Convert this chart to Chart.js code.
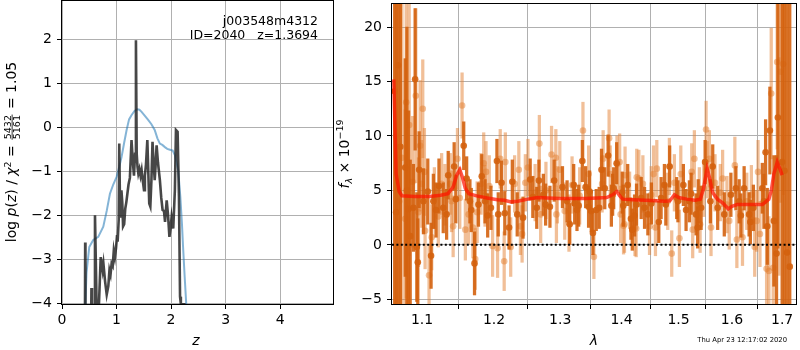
<!DOCTYPE html>
<html>
<head>
<meta charset="utf-8">
<script src="https://cdn.jsdelivr.net/npm/chart.js@4.4.1/dist/chart.umd.min.js"></script>
<style>
    body { margin: 0; background: #fff; }
    #wrap { position: relative; width: 800px; height: 350px; }
    #pzChart { position: absolute; left: 0; top: 0; }
    #specChart { position: absolute; left: 330px; top: 0; }
</style>
</head>
<body>
<div id="wrap">
    <canvas id="pzChart" width="340" height="350"></canvas>
    <canvas id="specChart" width="470" height="350"></canvas>
</div>
<script>
// ---- left panel: log p(z) ----
const fineZ = [0.42, 0.425, 0.43, 0.53, 0.54, 0.55, 0.595, 0.605, 0.648, 0.71, 0.745, 0.76, 0.79, 0.82, 0.85, 0.87, 0.89, 0.91,
    0.93, 0.95, 0.97, 0.99, 1.01, 1.02, 1.04, 1.05, 1.065, 1.075, 1.09, 1.105, 1.12, 1.14, 1.16, 1.18, 1.2, 1.22, 1.245,
    1.275, 1.3, 1.32, 1.34, 1.356, 1.37, 1.385, 1.4, 1.42, 1.44, 1.46, 1.48, 1.504, 1.52, 1.54, 1.565, 1.58, 1.6, 1.62,
    1.64, 1.66, 1.68, 1.7, 1.715, 1.735, 1.76, 1.795, 1.82, 1.845, 1.87, 1.89, 1.92, 1.945, 1.97, 1.99, 2.01, 2.04, 2.07,
    2.09, 2.12, 2.145, 2.165, 2.18, 2.265];
const fineLogP = [-5, -2.62, -5, -5, -3.65, -5, -5, -2.0, -5, -2.95, -3.25, -3.1, -3.5, -3.8, -3.6, -3.25, -3.35, -3.1,
    -3.15, -2.8, -2.95, -2.75, -2.45, -2.6, -2.1, -0.37, -1.9, -2.05, -1.43, -1.7, -2.25, -2.2, -1.85, -1.7, -1.5, -1.3, -1.15,
    -0.29, -0.8, -1.1, -0.6, 1.98, -0.6, -0.9, -1.05, -0.95, -1.1, -0.97, -1.2, -1.43, -1.1, -0.85, -0.29, -0.9, -1.73, -1.8,
    -1.2, -0.33, -0.8, -1.2, -0.9, -0.41, -0.8, -1.2, -1.6, -1.88, -1.9, -2.15, -1.66, -2.0, -2.49, -2.3, -2.04, -2.3, -1.43,
    -0.06, -0.1, -1.58, -3.85, -4.02, -4.02];
const coarseZ = [0.426, 0.45, 0.5, 0.573, 0.665, 0.757, 0.82, 0.879, 0.94, 1.0, 1.05, 1.093, 1.14, 1.185, 1.23, 1.277, 1.33,
    1.38, 1.42, 1.46, 1.52, 1.58, 1.64, 1.7, 1.75, 1.795, 1.84, 1.887, 1.93, 1.98, 2.03, 2.07, 2.1, 2.13, 2.17, 2.2, 2.22,
    2.25, 2.28];
const coarseLogP = [-4.1, -3.3, -2.72, -2.56, -2.49, -2.26, -1.9, -1.51, -1.3, -1.13, -0.9, -0.67, -0.35, -0.06, 0.18, 0.28,
    0.37, 0.41, 0.4, 0.35, 0.26, 0.17, 0.07, -0.06, -0.25, -0.37, -0.4, -0.45, -0.49, -0.51, -0.53, -0.63, -0.8, -0.97,
    -1.58, -2.2, -2.71, -3.4, -4.05];
const zTicks = [0, 1, 2, 3, 4];
const logpTicks = [-4, -3, -2, -1, 0, 1, 2];

// ---- right panel: spectrum (two grism orientations) ----
const darkLam = [
    1.0641, 1.0660, 1.0684, 1.0715, 1.0778, 1.0800, 1.0821, 1.0843, 1.0886, 1.0908,
    1.0930, 1.0943, 1.0961, 1.1018, 1.1076, 1.1120, 1.1151, 1.1187, 1.1227, 1.1285,
    1.1331, 1.1353, 1.1435, 1.1458, 1.1568, 1.1609, 1.1655, 1.1674, 1.1720, 1.1776,
    1.1823, 1.1870, 1.1908, 1.1955, 1.2042, 1.2061, 1.2109, 1.2157, 1.2220, 1.2268,
    1.2341, 1.2428, 1.2536, 1.2576, 1.2636, 1.2669, 1.2737, 1.2772, 1.2839, 1.2905,
    1.3035, 1.3108, 1.3150, 1.3213, 1.3229, 1.3266, 1.3293, 1.3352, 1.3405, 1.3453,
    1.3470, 1.3497, 1.3524, 1.3578, 1.3627, 1.3665, 1.3719, 1.3775, 1.3829, 1.3850,
    1.3868, 1.3918, 1.4012, 1.4030, 1.4105, 1.4160, 1.4183, 1.4222, 1.4256, 1.4337,
    1.4395, 1.4453, 1.4515, 1.4645, 1.4686, 1.4745, 1.4770, 1.4839, 1.4966, 1.4988,
    1.5087, 1.5136, 1.5197, 1.5229, 1.5320, 1.5350, 1.5360, 1.5414, 1.5489, 1.5588,
    1.5632, 1.5726, 1.5852, 1.5979, 1.6076, 1.6140, 1.6173, 1.6237, 1.6335, 1.6360,
    1.6420, 1.6598, 1.6631, 1.6664, 1.6698, 1.6751, 1.6832, 1.6886, 1.6913, 1.7001,
    1.7049, 1.7103, 1.7158];
const darkFlux = [
    14.1, 3.0, 16.5, 9.0, 7.1, 5.0, 3.3, 0.8, 3.4, 15.2,
    -0.2, -1.6, 6.9, 4.0, 4.9, -1.0, 4.0, 3.2, 5.4, 3.4,
    2.8, 6.4, 7.2, 4.2, 9.1, 6.1, 4.0, 3.2, -1.7, 3.7,
    6.3, 4.0, 2.7, 3.4, 7.7, 2.8, 5.7, 2.9, 1.6, 5.8,
    2.8, 2.5, 6.0, 4.4, 3.4, 5.9, 4.6, 3.7, 3.5, 5.9,
    5.3, 4.0, 1.9, 5.5, 3.8, 3.2, 3.6, 7.7, 5.3, 3.5,
    4.9, 3.1, 1.1, 3.2, 3.4, 6.9, 5.2, 8.2, 3.6, 4.6,
    5.2, 7.5, 4.8, 3.6, 5.5, 2.4, 1.4, 2.7, 3.7, 4.3,
    3.4, 2.8, 3.8, 2.1, 4.3, 5.5, 3.7, 7.2, 4.3, 4.0,
    5.5, 3.2, 4.0, 4.7, 2.8, 1.6, 4.0, 3.4, 7.6, 4.0,
    7.2, 3.4, 2.8, 4.6, 5.2, 4.0, 2.7, 5.2, 2.8, 2.1,
    3.4, 5.2, 4.0, 8.5, 1.7, 10.5, 2.2, -0.8, 11.7, 7.6,
    6.8, -0.7, -2.0];
const darkErr = [
    20, 25, 22, 20, 10, 15, 9, 7, 4, 6.5,
    5, 4, 3.5, 3, 3, 3, 2.5, 2.5, 2.5, 2.3,
    2.3, 2.2, 2.2, 2.2, 2.2, 2, 2, 2, 2.9, 2,
    2, 2, 2, 2, 2, 2, 2, 2, 2, 2,
    2, 1.9, 1.9, 1.9, 1.9, 1.9, 1.9, 1.9, 1.9, 1.9,
    1.9, 1.9, 1.9, 1.9, 1.9, 1.9, 1.9, 1.9, 1.9, 1.9,
    1.9, 1.9, 2, 1.9, 1.9, 1.9, 1.9, 1.9, 1.9, 1.9,
    1.9, 1.9, 1.9, 1.9, 1.9, 1.9, 1.9, 1.9, 1.9, 1.9,
    1.9, 1.9, 1.9, 1.9, 1.9, 1.9, 1.9, 1.9, 1.9, 1.9,
    1.9, 1.9, 1.9, 1.9, 1.9, 1.9, 2, 2, 2, 2,
    2, 2, 2, 2, 2, 2, 2, 2, 2, 2,
    2.1, 2.3, 2.5, 3, 3.5, 4, 6, 9, 12, 20,
    25, 25, 30];

const lightLam = [
    1.0660, 1.0700, 1.0735, 1.0778, 1.0791, 1.0830, 1.0873, 1.0917, 1.0952, 1.0974,
    1.0996, 1.1009, 1.1031, 1.1040, 1.1093, 1.1129, 1.1165, 1.1218, 1.1263, 1.1308,
    1.1381, 1.1399, 1.1421, 1.1481, 1.1513, 1.1545, 1.1591, 1.1637, 1.1697, 1.1730,
    1.1757, 1.1813, 1.1851, 1.1870, 1.1884, 1.1931, 1.1979, 1.2051, 1.2090, 1.2148,
    1.2165, 1.2244, 1.2302, 1.2365, 1.2389, 1.2414, 1.2463, 1.2502, 1.2611, 1.2676,
    1.2696, 1.2777, 1.2864, 1.2931, 1.2940, 1.2955, 1.2993, 1.3071, 1.3138, 1.3187,
    1.3309, 1.3362, 1.3454, 1.3540, 1.3675, 1.3692, 1.3791, 1.3810, 1.3923, 1.3968,
    1.3985, 1.4034, 1.4050, 1.4060, 1.4137, 1.4229, 1.4250, 1.4260, 1.4296, 1.4366,
    1.4482, 1.4511, 1.4552, 1.4586, 1.4610, 1.4804, 1.4834, 1.4876, 1.4924, 1.5015,
    1.5040, 1.5240, 1.5258, 1.5289, 1.5381, 1.5395, 1.5464, 1.5507, 1.5526, 1.5569,
    1.5600, 1.5675, 1.5776, 1.5820, 1.5903, 1.5947, 1.6056, 1.6095, 1.6205, 1.6289,
    1.6380, 1.6446, 1.6485, 1.6512, 1.6551, 1.6684, 1.6731, 1.6778, 1.6818, 1.6899,
    1.6933, 1.6967, 1.7022];
const lightFlux = [
    10.0, 4.0, 8.0, 2.4, 13.1, 11.0, 5.8, 13.7, 3.0, 9.1,
    5.6, 12.5, 6.7, 1.3, -2.8, 0.7, 4.3, 2.6, 5.6, 4.6,
    5.6, 4.0, 1.7, 7.9, 4.3, 12.8, 1.4, 2.8, 1.6, -1.3,
    3.0, 5.6, 7.5, 4.5, 6.7, 5.4, -0.1, -0.3, 7.9, -1.5,
    7.6, -0.2, 5.6, 6.9, 1.7, 1.0, 5.7, 7.1, 4.8, 9.3,
    2.8, 5.0, 8.3, 8.0, 2.8, 4.6, 6.9, 3.1, 2.0, 5.5,
    4.5, 10.5, 6.5, -1.1, 5.6, 7.9, 9.8, 6.5, 7.4, 7.6,
    2.8, 1.75, 1.9, 6.4, 4.1, 1.6, 1.5, 6.2, 6.1, 5.6,
    1.7, 4.6, 6.5, 1.6, 7.0, 4.0, 7.2, -0.8, 5.7, 0.6,
    6.5, 6.7, 1.4, 7.9, 4.5, 1.9, 5.2, 10.6, 6.9, 7.9,
    1.6, 5.7, 4.8, 6.1, 3.7, 2.2, 7.3, 0.5, 0.7, 4.0,
    4.6, -0.2, 2.2, 6.7, 1.0, -2.2, -2.4, 13.9, -2.1, 16.8,
    7.2, 15.9, 16.6];
const lightErr = [
    25, 25, 30, 10, 18, 12, 6, 8, 5, 6,
    4, 4.5, 4, 3.5, 2.8, 3, 2.8, 2.8, 2.8, 2.8,
    2.8, 2.8, 2.8, 2.8, 2.8, 3, 2.8, 2.8, 2.8, 2.8,
    2.8, 2.8, 2.8, 2.8, 2.8, 2.8, 2.8, 2.7, 2.7, 2.7,
    2.7, 2.7, 2.6, 2.6, 2.6, 2.6, 2.6, 2.6, 2.6, 2.6,
    2.6, 2.6, 2.6, 2.6, 2.6, 2.6, 2.6, 2.6, 2.6, 2.6,
    2.6, 2.6, 2.6, 2, 2.6, 2.6, 2.6, 2.6, 2.6, 2.6,
    2.6, 2.6, 2.6, 2.6, 2.6, 2.6, 2.6, 2.6, 2.6, 2.6,
    2.6, 2.6, 2.6, 2.6, 2.6, 2.6, 2.6, 2.1, 2.6, 2.6,
    2.6, 2.6, 2.6, 2.6, 2.6, 2.6, 2.6, 2.6, 2.6, 2.6,
    2.6, 2.6, 2.6, 2.6, 2.6, 2.6, 2.6, 2.6, 2.6, 2.6,
    2.7, 2.7, 2.8, 2.9, 3, 4, 5, 6, 7, 8,
    10, 12, 12];

const modelLam = [1.063, 1.0648, 1.066, 1.07, 1.0735, 1.09, 1.11, 1.125, 1.135, 1.142, 1.147, 1.1513, 1.155, 1.159, 1.164,
    1.175, 1.19, 1.205, 1.215, 1.225, 1.235, 1.25, 1.265, 1.28, 1.3, 1.32, 1.34, 1.36, 1.375, 1.385, 1.392, 1.397, 1.402,
    1.42, 1.44, 1.46, 1.475, 1.484, 1.4924, 1.5, 1.515, 1.53, 1.54, 1.546, 1.5526, 1.557, 1.563, 1.572, 1.582, 1.593, 1.6,
    1.61, 1.63, 1.66, 1.673, 1.678, 1.683, 1.69, 1.697, 1.70];
const modelFlux = [15.2, 10, 6.5, 4.9, 4.5, 4.45, 4.45, 4.55, 4.7, 5.3, 6.4, 6.9, 6.2, 5.2, 4.7,
    4.5, 4.3, 4.15, 4.1, 3.95, 4.0, 4.2, 4.35, 4.3, 4.25, 4.25, 4.25, 4.3, 4.35, 4.6, 4.9, 4.5, 4.2,
    4.15, 4.1, 4.05, 4.0, 4.05, 4.6, 4.35, 4.2, 4.1, 4.2, 5.2, 7.0, 6.2, 4.8, 4.2, 3.85, 3.3, 3.55,
    3.7, 3.7, 3.7, 4.2, 5.0, 6.5, 7.6, 6.8, 6.4];
const lamTicks = [1.1, 1.2, 1.3, 1.4, 1.5, 1.6, 1.7];
const fluxTicks = [-5, 0, 5, 10, 15, 20];
const lamRange = [1.0607, 1.7288];
const zeroLevel = 0;

const FONT = '"DejaVu Sans"';
const minus = (v) => v < 0 ? "\u2212" + Math.abs(v) : String(v);

// frame around the plot area (matplotlib spines)
const frame = {
    id: "frame",
    afterDatasetsDraw: (chart) => {
        const {ctx, chartArea: a} = chart;
        ctx.save();
        ctx.strokeStyle = "#000";
        ctx.lineWidth = 1;
        ctx.strokeRect(a.left - 0.5, a.top - 0.5, a.right - a.left + 1, a.bottom - a.top + 1);
        ctx.restore();
    }
};

// rotated mathtext-ish label, parts measured and centred on (x, y)
const drawRich = (ctx, parts, x, y, rot) => {
    const fontOf = (p) => (p.italic ? "italic " : "") + p.size + "px " + FONT;
    const widths = parts.map((p) => {
        ctx.font = fontOf(p);
        if (p.frac) {
            return Math.max(...p.frac.map((s) => ctx.measureText(s).width)) + 3;
        }
        return ctx.measureText(p.t).width;
    });
    const total = widths.reduce((a, b) => a + b, 0);
    ctx.save();
    ctx.translate(x, y);
    ctx.rotate(rot);
    ctx.fillStyle = "#000";
    ctx.textBaseline = "alphabetic";
    let cx = -total / 2;
    parts.forEach((p, i) => {
        ctx.font = fontOf(p);
        if (p.frac) {
            ctx.textAlign = "center";
            const mid = cx + widths[i] / 2;
            ctx.fillText(p.frac[0], mid, -5.5);
            ctx.fillText(p.frac[1], mid, 4);
            ctx.fillRect(cx + 1, -4.3, widths[i] - 2, 0.8);
            ctx.textAlign = "left";
        } else {
            ctx.textAlign = "left";
            ctx.fillText(p.t, cx, p.dy || 0);
        }
        cx += widths[i];
    });
    ctx.restore();
};

const pzText = {
    id: "pzText",
    afterDraw: (chart) => {
        const ctx = chart.ctx;
        drawRich(ctx, [
            {t: "log ", size: 14},
            {t: "p", size: 14, italic: true},
            {t: "(", size: 14},
            {t: "z", size: 14, italic: true},
            {t: ") / ", size: 14},
            {t: "\u03c7", size: 14, italic: true},
            {t: "2", size: 9.5, dy: -5.5},
            {t: " = ", size: 14},
            {frac: ["5432", "5161"], size: 9.5},
            {t: " = 1.05", size: 14},
        ], 16, 152, -Math.PI / 2);

        ctx.save();
        ctx.fillStyle = "#000";
        ctx.font = "italic 14px " + FONT;
        ctx.textAlign = "center";
        ctx.fillText("z", 196, 345);
        ctx.font = "12.5px " + FONT;
        ctx.textAlign = "right";
        ctx.fillText("j003548m4312", 318, 25);
        ctx.fillText("ID=2040   z=1.3694", 318, 39);
        ctx.restore();
    }
};

const specText = {
    id: "specText",
    afterDraw: (chart) => {
        const ctx = chart.ctx;
        drawRich(ctx, [
            {t: "f", size: 14, italic: true},
            {t: "\u03bb", size: 9.5, italic: true, dy: 3},
            {t: " \u00d7 10", size: 14},
            {t: "\u221219", size: 9.5, dy: -6},
        ], 19, 154, -Math.PI / 2);

        ctx.save();
        ctx.fillStyle = "#000";
        ctx.font = "italic 14px " + FONT;
        ctx.textAlign = "center";
        ctx.fillText("\u03bb", 264, 345);
        ctx.font = "6.8px " + FONT;
        ctx.textAlign = "right";
        ctx.fillText("Thu Apr 23 12:17:02 2020", 457, 342);
        ctx.restore();
    }
};

const axisStyle = (ticks, width, height) => ({
    afterBuildTicks: (scale) => {
        scale.ticks = ticks.map((v) => ({value: v}));
    },
    afterFit: (scale) => {
        if (width) {
            scale.width = width;
            scale.paddingTop = 0;
            scale.paddingBottom = 0;
        }
        if (height) {
            scale.height = height;
            scale.paddingLeft = 0;
            scale.paddingRight = 0;
        }
    },
    grid: {color: "#b0b0b0", lineWidth: 1, tickLength: 5, tickColor: "#000"},
    border: {display: false},
    ticks: {
        color: "#000",
        font: {family: "DejaVu Sans", size: 14},
        padding: height ? 3 : 5,
        maxRotation: 0,
        autoSkip: false,
        callback: (v) => minus(Math.round(v * 10) / 10),
    },
});

const pzChart = () => {
    const ctx = document.getElementById("pzChart").getContext("2d");
    return new Chart(ctx, {
        type: "line",
        data: {
            datasets: [{
                data: fineZ.map((z, i) => ({x: z, y: fineLogP[i]})),
                borderColor: "rgba(30,30,30,0.82)",
                borderWidth: 2.6,
                pointRadius: 0,
                tension: 0,
                order: 0,
            }, {
                data: coarseZ.map((z, i) => ({x: z, y: coarseLogP[i]})),
                borderColor: "rgba(31,119,180,0.55)",
                borderWidth: 2,
                pointRadius: 0,
                tension: 0,
                order: 1,
            }]
        },
        plugins: [frame, pzText],
        options: {
            responsive: false,
            animation: false,
            layout: {padding: {top: 1, right: 7, left: 0, bottom: 0}},
            plugins: {legend: {display: false}, tooltip: {enabled: false}},
            scales: {
                x: {type: "linear", min: 0, max: 4.97, ...axisStyle(zTicks, 0, 46)},
                y: {type: "linear", min: -4.015, max: 2.87, ...axisStyle(logpTicks, 62, 0)},
            },
        },
    });
};

const specChart = () => {
    const ctx = document.getElementById("specChart").getContext("2d");
    const dark = "rgba(212,98,14,0.9)";
    const light = "rgba(228,128,50,0.5)";
    const errBars = (lam, flux, err, color, order) => ({
        type: "bar",
        data: lam.map((l, i) => ({x: l, y: [flux[i] - err[i], flux[i] + err[i]]})),
        backgroundColor: color,
        borderWidth: 0,
        barThickness: 2.6,
        grouped: false,
        clip: 0,
        order: order,
    });
    const points = (lam, flux, color, order) => ({
        type: "scatter",
        data: lam.map((l, i) => ({x: l, y: flux[i]})),
        backgroundColor: color,
        borderWidth: 0,
        pointRadius: 3.3,
        clip: 0,
        order: order,
    });

    return new Chart(ctx, {
        type: "scatter",
        data: {
            datasets: [
                errBars(lightLam, lightFlux, lightErr, light, 6),
                points(lightLam, lightFlux, light, 5),
                errBars(darkLam, darkFlux, darkErr, dark, 4),
                points(darkLam, darkFlux, dark, 3),
                {
                    type: "line",
                    data: lamRange.map((l) => ({x: l, y: zeroLevel})),
                    borderColor: "#000",
                    borderWidth: 2,
                    borderDash: [2, 2.4],
                    pointRadius: 0,
                    clip: 0,
                    order: 1,
                },
                {
                    type: "line",
                    data: modelLam.map((l, i) => ({x: l, y: modelFlux[i]})),
                    borderColor: "rgba(255,20,0,0.72)",
                    borderWidth: 3.5,
                    pointRadius: 0,
                    tension: 0,
                    clip: 0,
                    order: 0,
                },
            ]
        },
        plugins: [frame, specText],
        options: {
            responsive: false,
            animation: false,
            layout: {padding: {top: 1, right: 1, left: 0, bottom: 0}},
            plugins: {legend: {display: false}, tooltip: {enabled: false}},
            scales: {
                x: {type: "logarithmic", min: lamRange[0], max: lamRange[1], offset: false, ...axisStyle(lamTicks, 0, 46)},
                y: {type: "linear", min: -5.43, max: 22.12, ...axisStyle(fluxTicks, 62, 0)},
            },
        },
    });
};

pzChart();
specChart();
</script>
</body>
</html>
